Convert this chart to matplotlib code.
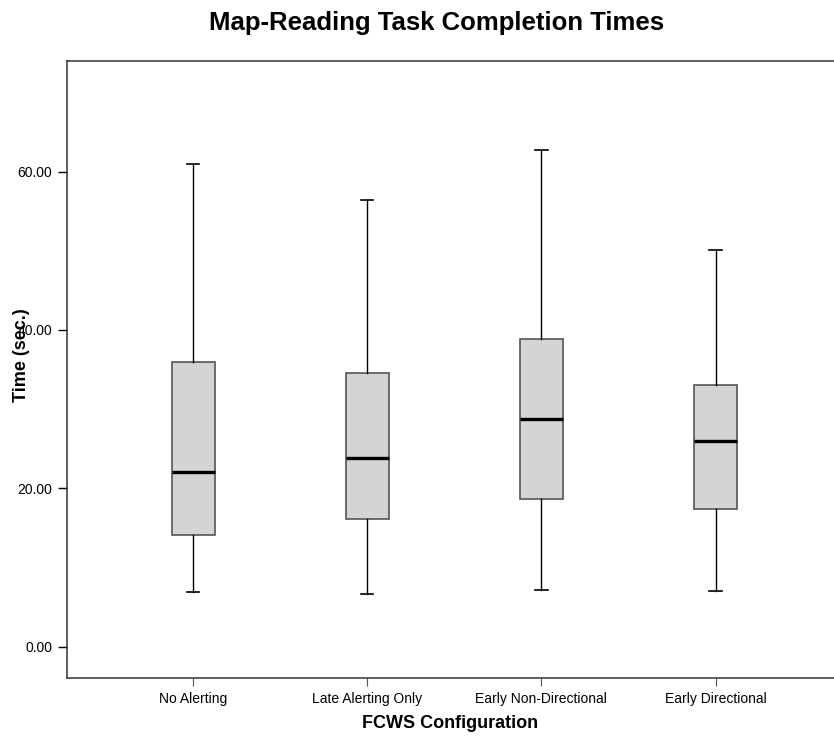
import matplotlib.pyplot as plt
import numpy as np

plt.rcParams['font.family'] = ['Liberation Sans', 'DejaVu Sans']

# box plot stats (seconds)
configs = ["No Alerting", "Late Alerting Only", "Early Non-Directional", "Early Directional"]
whisker_low = [6.9, 6.7, 7.1, 7.0]
q1 = [14.1, 16.1, 18.7, 17.4]
median = [22.1, 23.8, 28.7, 26.0]
q3 = [35.9, 34.5, 38.8, 33.0]
whisker_high = [60.9, 56.4, 62.7, 50.1]

yticks = [0, 20, 40, 60]

stats = []
for i, name in enumerate(configs):
    stats.append({"label": name, "whislo": whisker_low[i], "q1": q1[i],
                  "med": median[i], "q3": q3[i], "whishi": whisker_high[i],
                  "fliers": []})

fig = plt.figure(figsize=(8.34, 7.38), dpi=100)
ax = fig.add_axes([0.08, 0.0809, 0.92, 0.8369])

ax.bxp(stats, positions=np.arange(1, 5), widths=0.248, capwidths=0.07,
       patch_artist=True, showfliers=False,
       boxprops=dict(facecolor="#d4d4d4", edgecolor="#555555", linewidth=1.2),
       medianprops=dict(color="black", linewidth=2.4),
       whiskerprops=dict(color="black", linewidth=1.0),
       capprops=dict(color="black", linewidth=1.2))

ax.set_xlim(0.274, 4.68)
ax.set_ylim(-4, 74)
ax.set_yticks(yticks)
ax.set_yticklabels(["%.2f" % v for v in yticks])
ax.set_xticks(np.arange(1, 5))
ax.set_xticklabels(configs)

ax.tick_params(axis="y", direction="out", length=6.7, width=1, pad=3.6, labelsize=10)
ax.tick_params(axis="x", direction="out", length=6, width=0.8, color="#555555", pad=4, labelsize=10)

ax.spines["right"].set_visible(False)
for s in ["left", "top", "bottom"]:
    ax.spines[s].set_color("#333333")
    ax.spines[s].set_linewidth(1.1)

ax.set_xlabel("FCWS Configuration", fontsize=13, fontweight="bold", labelpad=6)
ax.set_ylabel("Time (sec.)", fontsize=13, fontweight="bold")
ax.yaxis.label.set_va("center")
ax.yaxis.set_label_coords(-0.0583, 0.524)

fig.text(437 / 834, 1 - 23 / 738, "Map-Reading Task Completion Times",
         fontsize=18.5, fontweight="bold", ha="center", va="center")

fig.savefig("out.png", dpi=100)
